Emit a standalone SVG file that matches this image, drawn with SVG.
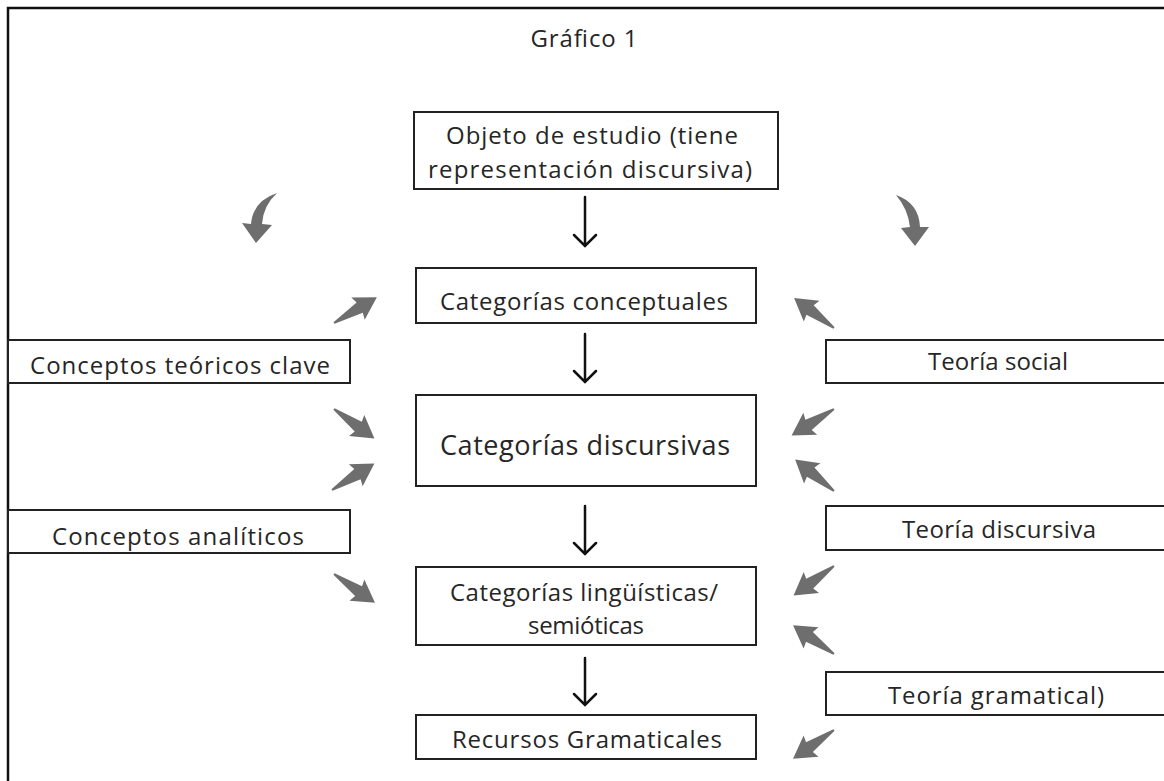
<svg xmlns="http://www.w3.org/2000/svg" xmlns:xlink="http://www.w3.org/1999/xlink" width="1164" height="781" viewBox="0 0 1164 781">
  <style>
    .box { fill: #ffffff; stroke: #222222; stroke-width: 2; }
    .t { font-family: "Open Sans", "Liberation Sans", Arial, sans-serif; font-size: 24px; fill: #262626; text-anchor: middle; }
    .big { font-size: 27px; }
    .blk { fill: none; stroke: #111111; stroke-width: 2.5; stroke-linecap: round; stroke-linejoin: miter; }
    .gray { fill: #6e6e6e; }
  </style>
  <defs>
    <path id="ga" d="M0,-1 L30,-6 L28,-13 L50,0 L28,13 L30,6 L0,1 Z"/>
  </defs>
  <rect x="0" y="0" width="1164" height="781" fill="#ffffff"/>
  <path d="M8,785 V8 H1170" fill="none" stroke="#111111" stroke-width="2.5"/>
  <text class="t" x="584" y="47" font-size="20" textLength="107">Gráfico 1</text>

  <g id="objeto">
    <rect class="box" x="414" y="112" width="364" height="77"/>
    <text class="t" x="592" y="144" textLength="292">Objeto de estudio (tiene</text>
    <text class="t" x="590" y="178" textLength="324">representación discursiva)</text>
  </g>
  <g id="cat-conceptuales">
    <rect class="box" x="416" y="268" width="340" height="55"/>
    <text class="t" x="584" y="310" textLength="288">Categorías conceptuales</text>
  </g>
  <g id="cat-discursivas">
    <rect class="box" x="416" y="395" width="340" height="91"/>
    <text class="t big" x="585" y="455" textLength="290">Categorías discursivas</text>
  </g>
  <g id="cat-linguisticas">
    <rect class="box" x="416" y="567" width="340" height="78"/>
    <text class="t" x="584" y="601" textLength="268">Categorías lingüísticas/</text>
    <text class="t" x="586" y="634" textLength="116">semióticas</text>
  </g>
  <g id="recursos">
    <rect class="box" x="416" y="715" width="340" height="44"/>
    <text class="t" x="587" y="748" textLength="270">Recursos Gramaticales</text>
  </g>
  <g id="conceptos-teoricos">
    <rect class="box" x="8" y="340" width="342" height="43"/>
    <text class="t" x="180" y="374" textLength="300">Conceptos teóricos clave</text>
  </g>
  <g id="conceptos-analiticos">
    <rect class="box" x="8" y="510" width="342" height="43"/>
    <text class="t" x="178" y="545" textLength="252">Conceptos analíticos</text>
  </g>
  <g id="teoria-social">
    <rect class="box" x="826" y="340" width="340" height="43"/>
    <text class="t" x="998" y="370" textLength="140">Teoría social</text>
  </g>
  <g id="teoria-discursiva">
    <rect class="box" x="826" y="506" width="340" height="44"/>
    <text class="t" x="999" y="538" textLength="194">Teoría discursiva</text>
  </g>
  <g id="teoria-gramatical">
    <rect class="box" x="826" y="672" width="340" height="43"/>
    <text class="t" x="996" y="704" textLength="216">Teoría gramatical)</text>
  </g>

  <g id="connectors">
    <path class="blk" d="M585,197 V246 M574,235 L585,246 L596,235"/>
    <path class="blk" d="M585,334 V382 M574,371 L585,382 L596,371"/>
    <path class="blk" d="M585,506 V554 M574,543 L585,554 L596,543"/>
    <path class="blk" d="M585,658 V705 M574,694 L585,705 L596,694"/>

    <path class="gray" d="M277,193 Q253,201 251,224 L242,223 L256,243 L272,225 L262,224 Q263,206 277,193 Z"/>
    <path class="gray" d="M896,195 Q919,203 920,227 L929,227 L915,246 L901,228 L910,227 Q908,209 896,195 Z"/>

    <use xlink:href="#ga" class="gray" transform="translate(334,323) rotate(-31)"/>
    <use xlink:href="#ga" class="gray" transform="translate(834,328) rotate(217)"/>
    <use xlink:href="#ga" class="gray" transform="translate(334,409) rotate(36)"/>
    <use xlink:href="#ga" class="gray" transform="translate(332,490) rotate(-32)"/>
    <use xlink:href="#ga" class="gray" transform="translate(834,409) rotate(148)"/>
    <use xlink:href="#ga" class="gray" transform="translate(834,491) rotate(219)"/>
    <use xlink:href="#ga" class="gray" transform="translate(334,574) rotate(35)"/>
    <use xlink:href="#ga" class="gray" transform="translate(834,566) rotate(144)"/>
    <use xlink:href="#ga" class="gray" transform="translate(834,654) rotate(215)"/>
    <use xlink:href="#ga" class="gray" transform="translate(834,730) rotate(145)"/>
  </g>
</svg>
